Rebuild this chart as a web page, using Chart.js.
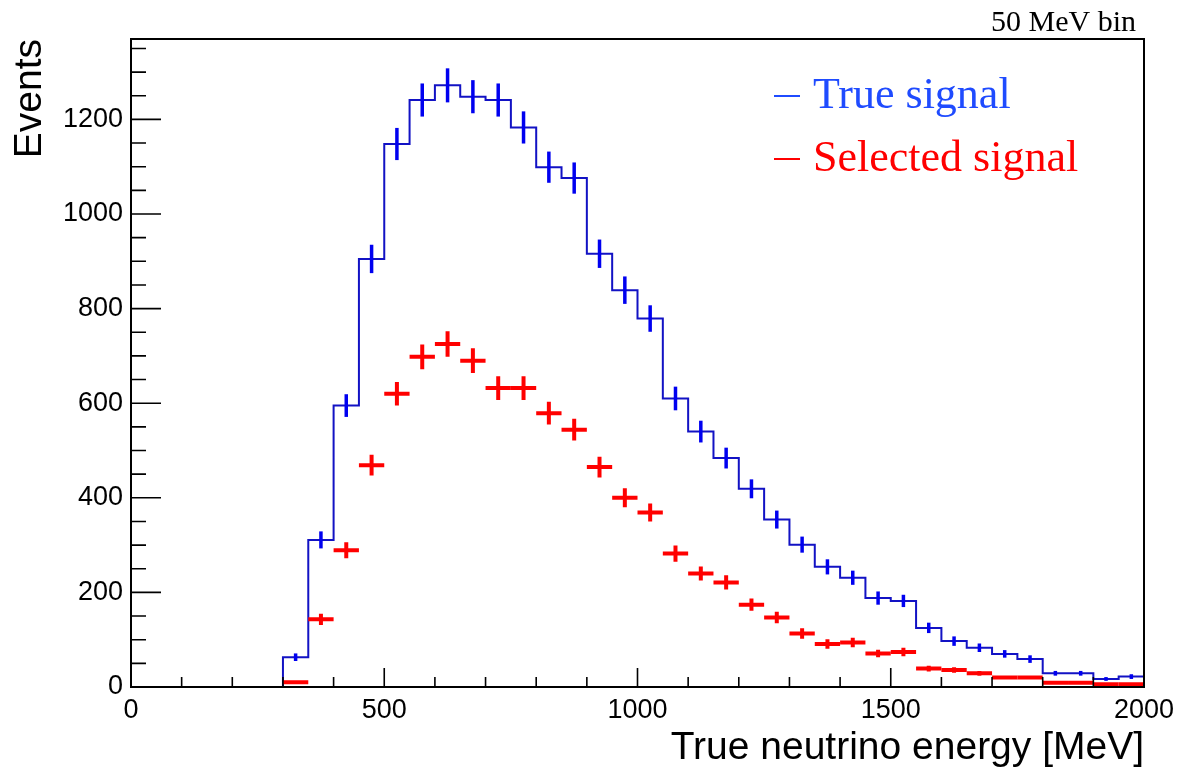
<!DOCTYPE html>
<html>
<head>
<meta charset="utf-8">
<title>True neutrino energy</title>
<script src="https://cdn.jsdelivr.net/npm/chart.js@4.4.0/dist/chart.umd.min.js"></script>
<style>
    html, body { margin: 0; padding: 0; background: #fff; }
    #wrap { width: 1184px; height: 769px; }
</style>
</head>
<body>
<div id="wrap"><canvas id="chart" width="1184" height="769"></canvas></div>
<script>
// Lower edges of the 50 MeV bins [MeV]
const binLow = [300, 350, 400, 450, 500, 550, 600, 650, 700, 750, 800, 850, 900, 950,
    1000, 1050, 1100, 1150, 1200, 1250, 1300, 1350, 1400, 1450, 1500, 1550, 1600,
    1650, 1700, 1750, 1800, 1850, 1900, 1950];
const binWidth = 50;

// True signal (blue histogram) and its error bars
const trueSignal = [63, 311, 595, 905, 1148, 1241, 1272, 1248, 1241, 1183, 1099, 1076, 916, 839,
    779, 610, 540, 484, 419, 354, 301, 254, 231, 188, 182, 125, 97,
    83, 70, 59, 29, 29, 17, 22];
const trueErr = [8, 18, 24, 30, 34, 35, 36, 35, 35, 34, 33, 33, 30, 29,
    28, 25, 23, 22, 20, 19, 17, 16, 15, 14, 13, 11, 10,
    9, 8, 8, 5, 5, 4, 5];

// Selected signal (red points) and its error bars
const selSignal = [10, 143, 289, 469, 620, 698, 725, 690, 632, 632, 579, 544, 465, 400,
    369, 282, 240, 221, 174, 147, 113, 91, 94, 71, 74, 39, 36,
    29, 20, 20, 9, 9, 6, 6];
const selErr = [3, 12, 17, 22, 25, 26, 27, 26, 25, 25, 24, 23, 22, 20,
    19, 17, 15, 15, 13, 12, 11, 10, 10, 8, 9, 6, 6,
    5, 4, 4, 3, 3, 2, 2];

const xTicks = [0, 500, 1000, 1500, 2000];
const yTicks = [0, 200, 400, 600, 800, 1000, 1200];

const SANS = '"Liberation Sans", Arial, Helvetica, sans-serif';
const SERIF = '"Liberation Serif", "Times New Roman", serif';
const HIST_BLUE = '#1212c4';
const BAR_BLUE = '#0000f0';
const RED = '#ff0000';

// Step outline for the blue histogram, from the bin edges
function stepPoints() {
    const pts = [{x: 0, y: 0}];
    binLow.forEach(function(lo, i) {
        pts.push({x: lo, y: trueSignal[i]});
    });
    pts.push({x: binLow[binLow.length - 1] + binWidth, y: trueSignal[trueSignal.length - 1]});
    return pts;
}

// plain numbers, no thousands separator
function plainLabel(value) {
    return String(value);
}

// Error bars, crosses, frame, ROOT style ticks and text
const rootStyle = {
    id: 'rootStyle',
    afterDatasetsDraw(chart) {
        const ctx = chart.ctx;
        const a = chart.chartArea;
        const x = chart.scales.x;
        const y = chart.scales.y;

        ctx.save();
        ctx.beginPath();
        ctx.rect(a.left, a.top, a.right - a.left, a.bottom - a.top);
        ctx.clip();
        ctx.lineCap = 'butt';

        // blue vertical error bars at the bin centres
        ctx.strokeStyle = BAR_BLUE;
        ctx.lineWidth = 3.5;
        binLow.forEach(function(lo, i) {
            const px = x.getPixelForValue(lo + binWidth / 2);
            ctx.beginPath();
            ctx.moveTo(px, y.getPixelForValue(trueSignal[i] + trueErr[i]));
            ctx.lineTo(px, y.getPixelForValue(trueSignal[i] - trueErr[i]));
            ctx.stroke();
        });

        // red crosses: full bin width and vertical error
        ctx.strokeStyle = RED;
        ctx.lineWidth = 4;
        binLow.forEach(function(lo, i) {
            const py = y.getPixelForValue(selSignal[i]);
            const px = x.getPixelForValue(lo + binWidth / 2);
            ctx.beginPath();
            ctx.moveTo(x.getPixelForValue(lo), py);
            ctx.lineTo(x.getPixelForValue(lo + binWidth), py);
            ctx.moveTo(px, y.getPixelForValue(selSignal[i] + selErr[i]));
            ctx.lineTo(px, y.getPixelForValue(selSignal[i] - selErr[i]));
            ctx.stroke();
        });
        ctx.restore();
    },
    afterDraw(chart) {
        const ctx = chart.ctx;
        const a = chart.chartArea;
        const x = chart.scales.x;
        const y = chart.scales.y;

        ctx.save();
        ctx.strokeStyle = '#000';
        ctx.lineWidth = 2;
        ctx.strokeRect(a.left, a.top, a.right - a.left, a.bottom - a.top);

        // ticks point inwards, only on bottom and left
        ctx.lineWidth = 1.6;
        ctx.beginPath();
        for (let v = 0; v <= 2000; v += 100) {
            const px = x.getPixelForValue(v);
            const len = (v % 500 === 0) ? 19 : 10;
            ctx.moveTo(px, a.bottom);
            ctx.lineTo(px, a.bottom - len);
        }
        for (let v = 0; v <= 1350; v += 50) {
            const py = y.getPixelForValue(v);
            const len = (v % 200 === 0) ? 30 : 15;
            ctx.moveTo(a.left, py);
            ctx.lineTo(a.left + len, py);
        }
        ctx.stroke();

        // bin width note
        ctx.fillStyle = '#000';
        ctx.font = '30px ' + SERIF;
        ctx.textAlign = 'right';
        ctx.textBaseline = 'alphabetic';
        ctx.fillText('50 MeV bin', 1136, 31);

        // legend
        ctx.textAlign = 'left';
        ctx.font = '44px ' + SERIF;
        ctx.lineWidth = 2;
        ctx.strokeStyle = '#1f4bff';
        ctx.fillStyle = '#1f4bff';
        ctx.beginPath();
        ctx.moveTo(774, 96);
        ctx.lineTo(800, 96);
        ctx.stroke();
        ctx.fillText('True signal', 813, 108);

        ctx.strokeStyle = RED;
        ctx.fillStyle = RED;
        ctx.beginPath();
        ctx.moveTo(774, 159);
        ctx.lineTo(800, 159);
        ctx.stroke();
        ctx.fillText('Selected signal', 813, 171);
        ctx.restore();
    }
};

const chart = new Chart(document.getElementById('chart'), {
    type: 'line',
    data: {
        datasets: [{
            label: 'True signal',
            data: stepPoints(),
            stepped: 'before',
            borderColor: HIST_BLUE,
            borderWidth: 2,
            pointRadius: 0,
            fill: false
        }]
    },
    options: {
        responsive: false,
        animation: false,
        layout: { padding: { top: 39, right: 40, left: 0, bottom: 0 } },
        plugins: { legend: { display: false }, tooltip: { enabled: false } },
        scales: {
            x: {
                type: 'linear',
                min: 0,
                max: 2000,
                afterBuildTicks: function(s) { s.ticks = xTicks.map(function(v) { return {value: v}; }); },
                afterFit: function(s) { s.height = 82; },
                grid: { display: false, drawTicks: false },
                border: { display: false },
                ticks: { color: '#000', padding: 7, maxRotation: 0, callback: plainLabel, font: { family: SANS, size: 27 } },
                title: {
                    display: true,
                    text: 'True neutrino energy [MeV]',
                    align: 'end',
                    color: '#000',
                    padding: { top: 0, bottom: 1 },
                    font: { family: SANS, size: 39, lineHeight: 1 }
                }
            },
            y: {
                min: 0,
                max: 1370,
                afterBuildTicks: function(s) { s.ticks = yTicks.map(function(v) { return {value: v}; }); },
                afterFit: function(s) { s.width = 131; },
                grid: { display: false, drawTicks: false },
                border: { display: false },
                ticks: { color: '#000', padding: 8, callback: plainLabel, font: { family: SANS, size: 27 } },
                title: {
                    display: true,
                    text: 'Events',
                    align: 'end',
                    color: '#000',
                    padding: { top: 11, bottom: 0 },
                    font: { family: SANS, size: 39, lineHeight: 1 }
                }
            }
        }
    },
    plugins: [rootStyle]
});
</script>
</body>
</html>
